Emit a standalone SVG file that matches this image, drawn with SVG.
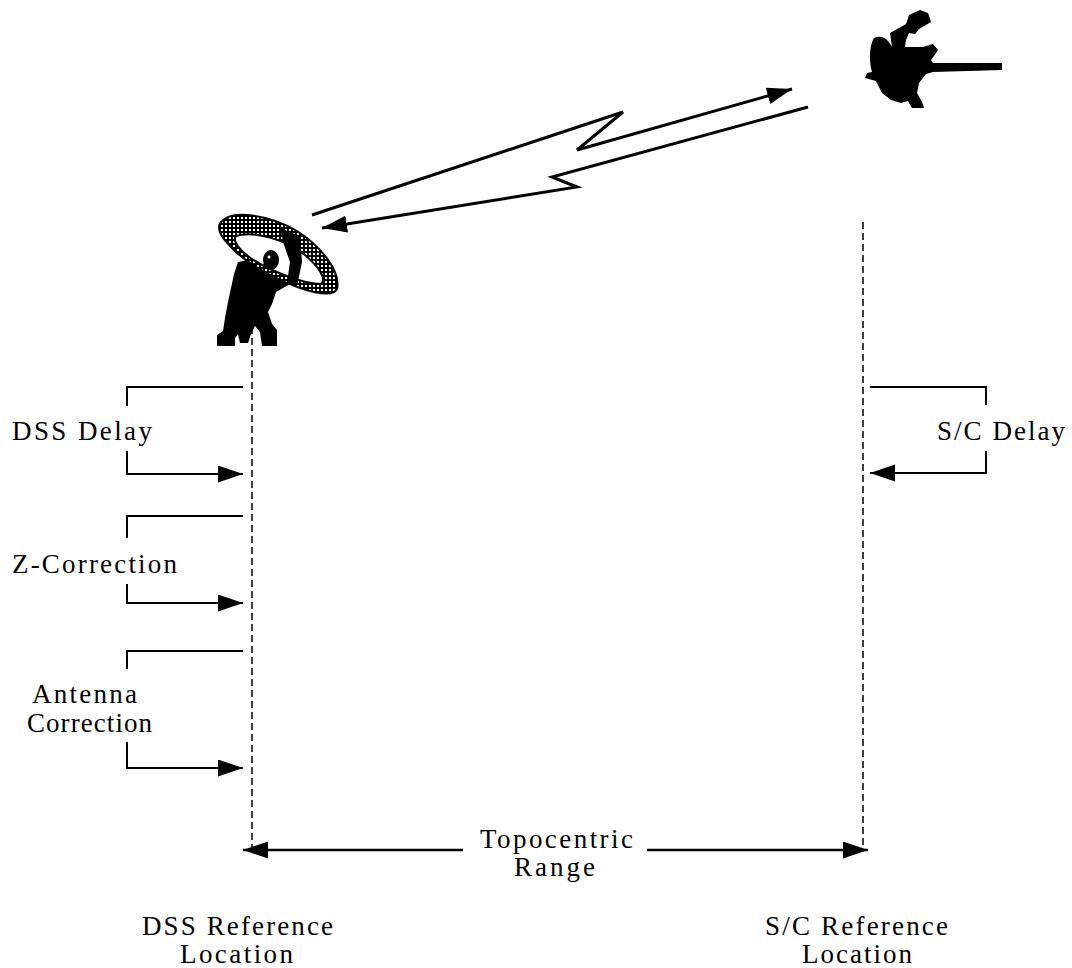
<svg xmlns="http://www.w3.org/2000/svg" width="1072" height="968" viewBox="0 0 1072 968">
  <style>
    .lbl { font-family: "Liberation Serif", "Times New Roman", serif; font-size: 27px; fill: #000; }
    .brk { fill: none; stroke: #000; stroke-width: 2; }
    .arr { fill: none; stroke: #000; stroke-width: 2; marker-end: url(#head); }
    .bolt { fill: none; stroke: #000; stroke-width: 3; stroke-linejoin: miter; marker-end: url(#head); }
    .ref { fill: none; stroke: #000; stroke-width: 1.5; stroke-dasharray: 7 4; }
    .solid { fill: #000; }
  </style>
  <defs>
    <marker id="head" markerUnits="userSpaceOnUse" markerWidth="26" markerHeight="18" refX="25" refY="8.5" orient="auto">
      <path d="M0,0 L25,8.5 L0,17 Z" fill="#000"/>
    </marker>
    <pattern id="mesh" width="4" height="4" patternUnits="userSpaceOnUse">
      <rect width="4" height="4" fill="#000"/>
      <rect x="1" y="1" width="2" height="2" fill="#fff"/>
    </pattern>
  </defs>
  <rect width="1072" height="968" fill="#fff"/>

  <!-- ground antenna: pedestal, dish rim, dish face, feed -->
  <g id="antenna">
    <path class="solid" d="M238,262 L258,258 L278,270 L290,284 L276,292 L272,304 L268,312 L272,324 L277,330 L277,346 L262,346 L260,332 L255,326 L251,334 L248,343 L240,343 L238,334 L235,338 L235,346 L217,346 L217,335 L223,331 L225,318 L228,302 L231,288 L234,274 Z"/>
    <path d="M221,222 C232,208 272,216 297,231 C322,247 341,272 337,289 C333,297 315,293 300,288 C275,279 245,263 230,246 C220,236 216,228 221,222 Z" fill="url(#mesh)" stroke="#000" stroke-width="2"/>
    <path d="M236,236 C254,230 286,240 305,255 C319,267 327,279 321,284 C305,284 272,272 252,259 C240,251 232,241 236,236 Z" fill="#fff" stroke="#000" stroke-width="2"/>
    <path class="solid" d="M280,228 L300,236 L302,262 L297,286 L287,283 L290,262 L284,245 Z"/>
    <ellipse class="solid" cx="271" cy="260" rx="8" ry="10"/>
    <circle cx="269" cy="257" r="1.5" fill="#fff"/>
  </g>

  <!-- spacecraft with boom -->
  <g id="spacecraft">
    <path class="solid" d="M874,38 C882,34 889,40 892,47 L890,33 L906,24 L909,15 L920,10 L928,13 L931,22 L919,29 L915,34 L909,33 L906,40 L905,47 L923,47 L933,44 L938,50 L934,56 L931,60 L933,63 L1002,63 L1002,70 L933,72 L926,74 L919,83 L917,93 L922,102 L924,108 L912,108 L908,101 L901,103 L891,100 L882,93 L876,81 L865,78 L867,73 L872,72 C869,62 869,46 874,38 Z"/>
  </g>

  <!-- dashed reference verticals -->
  <g id="reference-lines">
    <line class="ref" x1="252" y1="327" x2="252" y2="850"/>
    <line class="ref" x1="863" y1="222" x2="863" y2="850"/>
  </g>

  <g id="connectors">
    <!-- uplink and downlink bolts -->
    <polyline class="bolt" points="312,215 623,112 577,150 792,89"/>
    <polyline class="bolt" points="808,107 552,177 577,187 322,228"/>

    <!-- DSS delay bracket -->
    <polyline class="brk" points="243,387 127,387 127,406"/>
    <polyline class="arr" points="127,451 127,474 243,474"/>
    <!-- Z-correction bracket -->
    <polyline class="brk" points="243,516 127,516 127,538"/>
    <polyline class="arr" points="127,584 127,603 243,603"/>
    <!-- antenna correction bracket -->
    <polyline class="brk" points="243,651 127,651 127,669"/>
    <polyline class="arr" points="127,742 127,768 243,768"/>
    <!-- S/C delay bracket -->
    <polyline class="brk" points="870,387 986,387 986,405"/>
    <polyline class="arr" points="986,451 986,473 870,473"/>

    <!-- topocentric range -->
    <line class="arr" x1="463" y1="850" x2="243" y2="850" style="stroke-width:2.5"/>
    <line class="arr" x1="647" y1="850" x2="868" y2="850" style="stroke-width:2.5"/>
  </g>

  <g id="labels">
    <text class="lbl" x="12" y="440" textLength="140" lengthAdjust="spacing">DSS Delay</text>
    <text class="lbl" x="12" y="573" textLength="165" lengthAdjust="spacing">Z-Correction</text>
    <text class="lbl" x="32" y="703" textLength="105" lengthAdjust="spacing">Antenna</text>
    <text class="lbl" x="27" y="732" textLength="125" lengthAdjust="spacing">Correction</text>
    <text class="lbl" x="937" y="440" textLength="128" lengthAdjust="spacing">S/C Delay</text>
    <text class="lbl" x="480" y="848" textLength="153" lengthAdjust="spacing">Topocentric</text>
    <text class="lbl" x="514" y="876" textLength="81" lengthAdjust="spacing">Range</text>
    <text class="lbl" x="142" y="935" textLength="191" lengthAdjust="spacing">DSS Reference</text>
    <text class="lbl" x="180" y="963" textLength="113" lengthAdjust="spacing">Location</text>
    <text class="lbl" x="765" y="935" textLength="183" lengthAdjust="spacing">S/C Reference</text>
    <text class="lbl" x="802" y="963" textLength="110" lengthAdjust="spacing">Location</text>
  </g>
</svg>
